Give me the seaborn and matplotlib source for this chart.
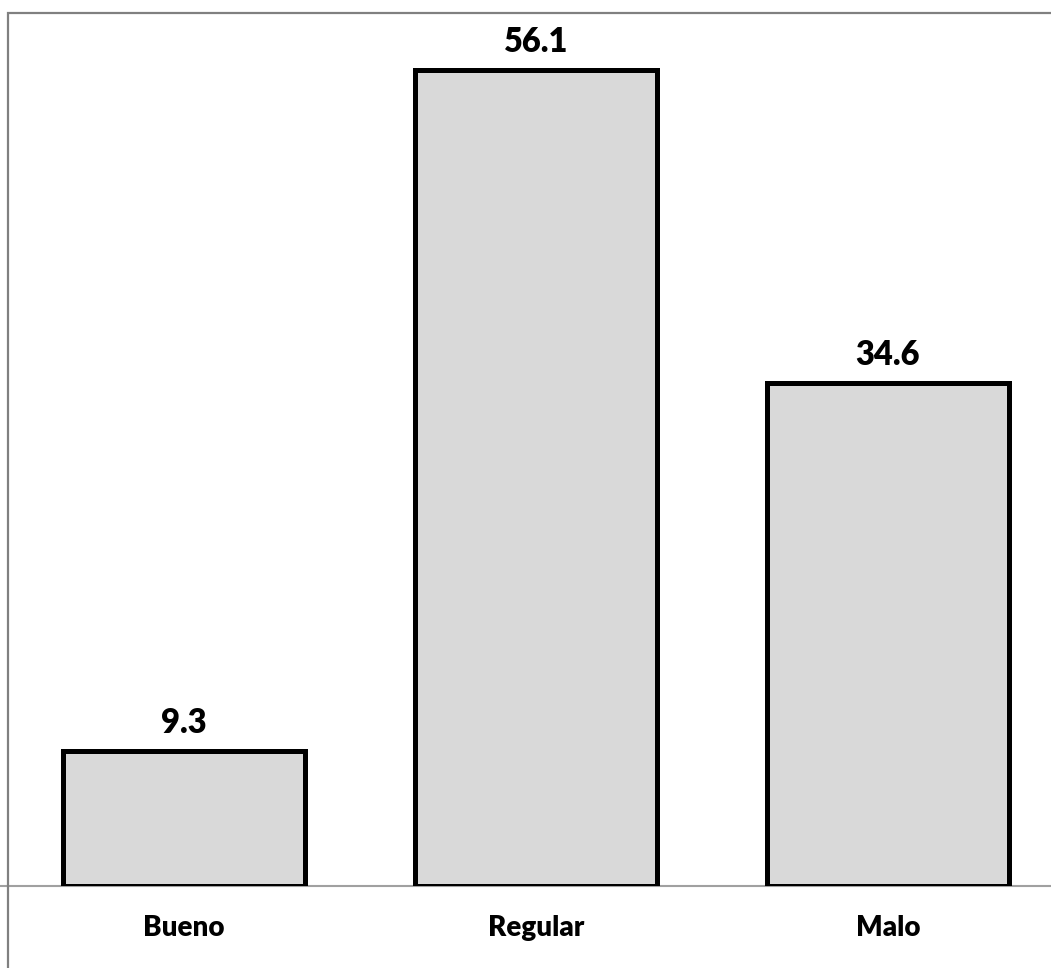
import matplotlib
matplotlib.use("Agg")
import matplotlib.pyplot as plt
from matplotlib.patches import Rectangle
import seaborn as sns
import pandas as pd

categories = ["Bueno", "Regular", "Malo"]
values = [9.3, 56.1, 34.6]

sns.set_theme(style="white")
plt.rcParams["font.family"] = ["Lato", "DejaVu Sans"]

df = pd.DataFrame({"categoria": categories, "valor": values})

W, H = 1051, 968
fig = plt.figure(figsize=(W / 100, H / 100), dpi=100)
# plot area: left edge at x=8, top at y=13, baseline at y=886 (pixels)
left, right, top, bottom = 8, 1064, 13, 886
ax = fig.add_axes([left / W, (H - bottom) / H, (right - left) / W, (bottom - top) / H])

# chart border (runs off the right and bottom edges)
fig.patches.append(Rectangle((left / W, -0.1), 1.2, (H - top) / H + 0.1,
                             transform=fig.transFigure, fill=False,
                             edgecolor="#808080", linewidth=1.6, zorder=0))

sns.barplot(data=df, x="categoria", y="valor", ax=ax, color="#d9d9d9",
            saturation=1, width=0.685, edgecolor="black", linewidth=3.6)

ax.set_ylim(0, 60)
ax.set_xlim(-0.5, 2.5)
ax.set_xlabel("")
ax.set_ylabel("")
ax.set_yticks([])
ax.tick_params(axis="x", length=0, pad=21)
for lbl in ax.get_xticklabels():
    lbl.set_fontsize(20)
    lbl.set_fontweight("heavy")
    lbl.set_color("black")

for spine in ax.spines.values():
    spine.set_visible(False)
# category axis line, extending across the full width
ax.axhline(0, xmin=-0.05, xmax=1.05, color="#a0a0a0", linewidth=1.5,
           clip_on=False, zorder=0.5)

for i, v in enumerate(values):
    ax.annotate(f"{v:.1f}", xy=(i, v), xytext=(0, 8.5), textcoords="offset points",
                ha="center", va="bottom", fontsize=23.5, fontweight="heavy", color="black")

fig.savefig("out.png", dpi=100)
